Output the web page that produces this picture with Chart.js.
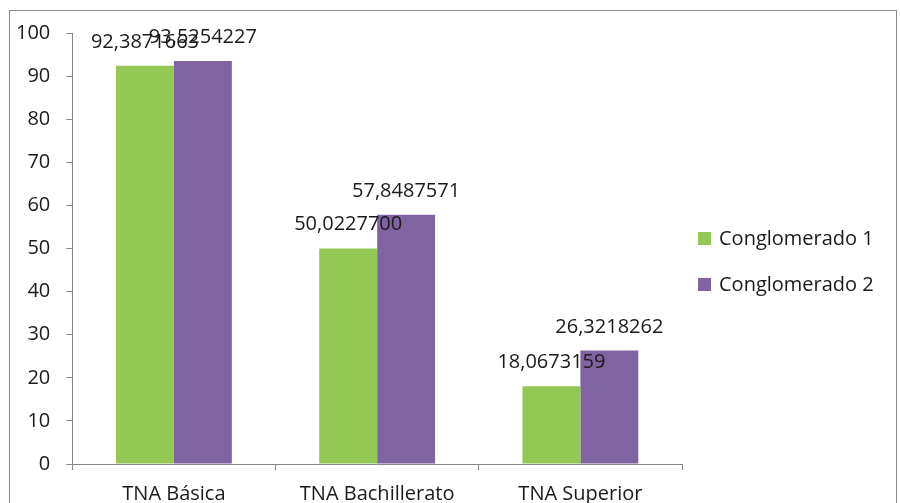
<!DOCTYPE html>
<html lang="es">
<head>
    <meta charset="UTF-8">
    <title>TNA por conglomerado</title>
    <style>
        * { margin: 0; padding: 0; box-sizing: border-box; }
        body { width: 900px; height: 503px; overflow: hidden; background: #fff; position: relative; }
        .frame {
            position: absolute;
            left: 9px; top: 10px;
            width: 888px; height: 600px;
            border: 1px solid #8a8a8a;
        }
        .chart-box { position: absolute; left: 0; top: 0; width: 900px; height: 518px; }
    </style>
</head>
<body>
    <div class="frame"></div>
    <div class="chart-box"><canvas id="tnaChart" width="900" height="518"></canvas></div>

    <script src="https://cdn.jsdelivr.net/npm/chart.js"></script>
    <script>
        const categories = ['TNA Básica', 'TNA Bachillerato', 'TNA Superior'];
        const conglomerado1 = [92.3871663, 50.02277, 18.0673159];
        const conglomerado2 = [93.5254227, 57.8487571, 26.3218262];
        const seriesNames = ['Conglomerado 1', 'Conglomerado 2'];
        const seriesColors = ['#92c853', '#8064a2'];

        const FONT = '"Open Sans", sans-serif';
        const TEXT = '#1a1a1a';
        const AXIS = '#868686';

        function fmt(v) {
            return v.toFixed(7).replace('.', ',');
        }

        // value labels above each bar + legend on the right
        const extras = {
            id: 'extras',
            afterDatasetsDraw(chart) {
                const ctx = chart.ctx;
                ctx.save();
                ctx.font = '20px ' + FONT;
                ctx.fillStyle = TEXT;
                ctx.textAlign = 'center';
                ctx.textBaseline = 'alphabetic';
                chart.data.datasets.forEach((ds, i) => {
                    chart.getDatasetMeta(i).data.forEach((bar, j) => {
                        ctx.fillText(fmt(ds.data[j]), bar.x, bar.y - 18);
                    });
                });

                // legend
                const x0 = chart.chartArea.right + 16;
                let y = 238;
                ctx.textAlign = 'left';
                ctx.textBaseline = 'middle';
                chart.data.datasets.forEach(ds => {
                    ctx.fillStyle = ds.backgroundColor;
                    ctx.fillRect(x0, y - 6, 13, 13);
                    ctx.fillStyle = TEXT;
                    ctx.fillText(ds.label, x0 + 21, y + 1);
                    y += 46;
                });
                ctx.restore();
            }
        };

        new Chart(document.getElementById('tnaChart'), {
            type: 'bar',
            data: {
                labels: categories,
                datasets: [
                    { label: seriesNames[0], data: conglomerado1, backgroundColor: seriesColors[0] },
                    { label: seriesNames[1], data: conglomerado2, backgroundColor: seriesColors[1] }
                ]
            },
            options: {
                responsive: false,
                animation: false,
                layout: { padding: { left: 0, right: 218, top: 33, bottom: 0 } },
                datasets: { bar: { categoryPercentage: 0.57, barPercentage: 1.0 } },
                plugins: {
                    legend: { display: false },
                    tooltip: { enabled: false }
                },
                scales: {
                    x: {
                        offset: true,
                        grid: { display: true, offset: true, drawOnChartArea: false, tickLength: 6, color: AXIS },
                        border: { color: AXIS },
                        ticks: { color: TEXT, font: { family: FONT, size: 20 }, padding: 12 }
                    },
                    y: {
                        min: 0, max: 100,
                        grid: { drawOnChartArea: false, tickLength: 6, color: AXIS },
                        border: { color: AXIS },
                        ticks: { stepSize: 10, color: TEXT, font: { family: FONT, size: 20 }, padding: 16 }
                    }
                }
            },
            plugins: [extras]
        });
    </script>
</body>
</html>
